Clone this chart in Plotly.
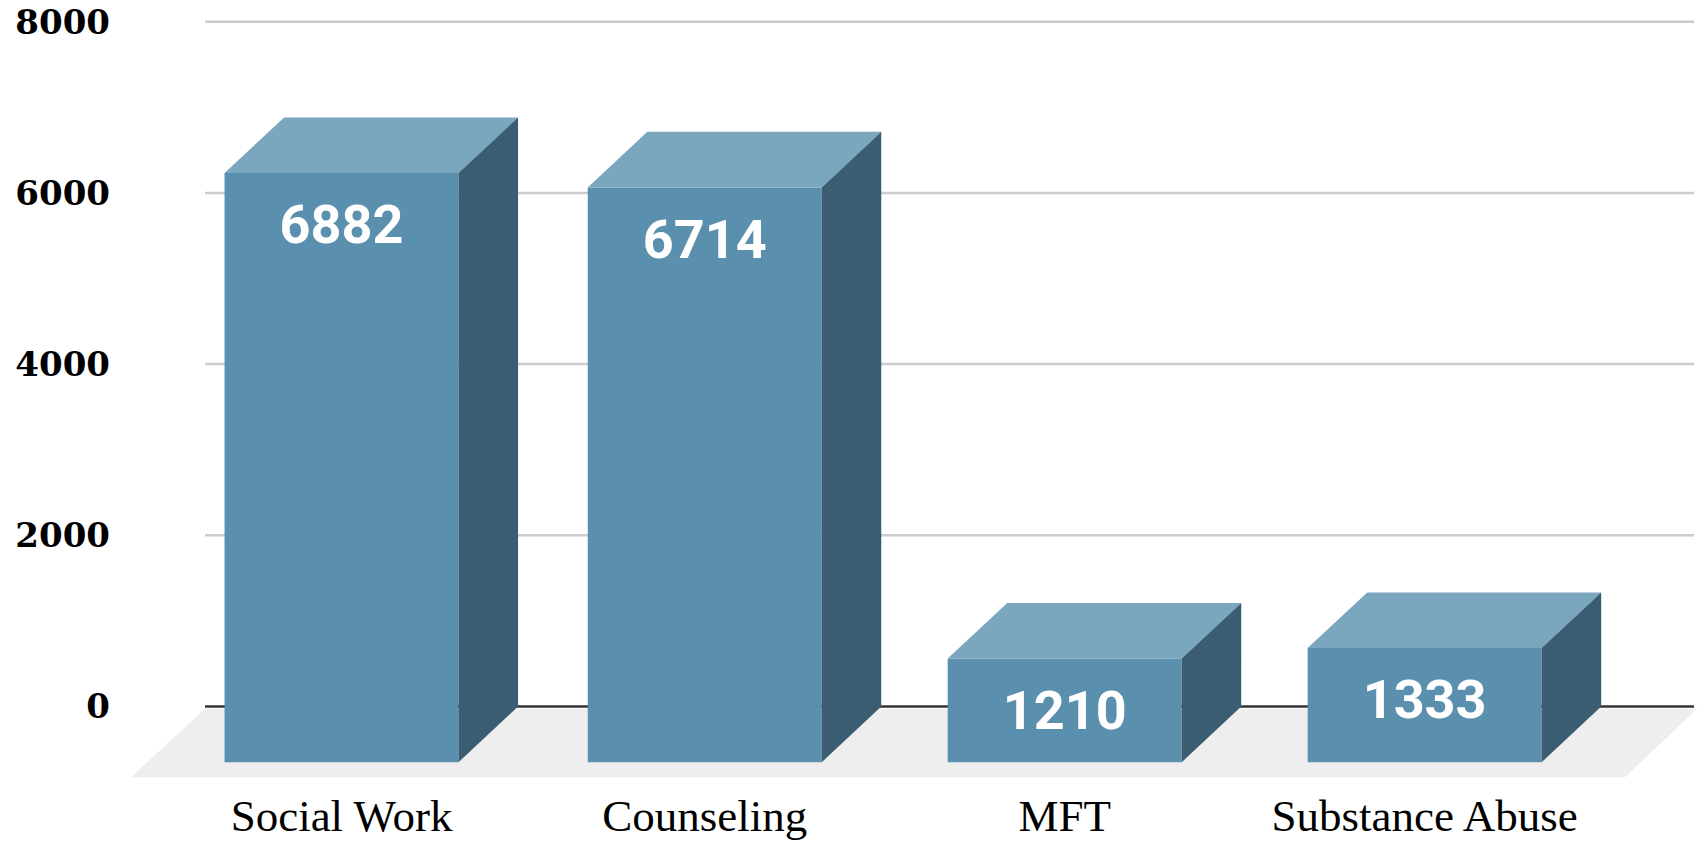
import plotly.graph_objects as go

categories = ["Social Work", "Counseling", "MFT", "Substance Abuse"]
values = [6882, 6714, 1210, 1333]
y_ticks = [0, 2000, 4000, 6000, 8000]

FRONT, TOP, SIDE = "#5a8fae", "#7aa6be", "#3a5d71"
FLOOR, GRID, ZERO = "#eeeeee", "#cccccc", "#333333"
HW = 0.324      # half bar width, in category units
DX, DY = 0.165, 650   # oblique depth, in axis units

positions = [0, 1.006, 2.003, 3.0]
fig = go.Figure()


def poly(xs, ys, color):
    fig.add_trace(go.Scatter(x=xs, y=ys, mode="lines", fill="toself", fillcolor=color,
                             line=dict(width=0, color=color), hoverinfo="skip", showlegend=False))


# floor
poly([-0.378, 3.755, 3.555, -0.583], [-25, -25, -826, -826], FLOOR)

# gridlines
for t in y_ticks:
    fig.add_trace(go.Scatter(x=[-0.378, 3.746], y=[t, t], mode="lines", hoverinfo="skip", showlegend=False,
                             line=dict(color=ZERO if t == 0 else GRID, width=2.5)))

# oblique bars
for p, v in zip(positions, values):
    l, r = p - HW, p + HW
    poly([l, r, r, l], [-DY, -DY, v - DY, v - DY], FRONT)
    poly([l, r, r + DX, l + DX], [v - DY, v - DY, v, v], TOP)
    poly([r, r + DX, r + DX, r], [v - DY, v, 0, -DY], SIDE)

# value labels
fig.add_trace(go.Scatter(x=positions, y=[v - DY - 665 for v in values], mode="text",
                         text=[str(v) for v in values], textposition="middle center",
                         textfont=dict(family="Roboto", size=54, color="white", weight="bold"),
                         hoverinfo="skip", showlegend=False))

fig.update_layout(
    width=1703, height=841, margin=dict(l=125, r=0, t=0, b=46),
    paper_bgcolor="white", plot_bgcolor="white",
    xaxis=dict(range=[-0.5997, 3.771], tickvals=positions, ticktext=categories, showgrid=False,
               zeroline=False, showline=False, ticks="", ticklabelstandoff=-10, automargin=False,
               tickfont=dict(family="Liberation Serif", size=45, color="#000000")),
    yaxis=dict(range=[-1034, 8254], tickvals=y_ticks, ticktext=[str(t) for t in y_ticks], showgrid=False,
               zeroline=False, showline=False, ticks="", ticklabelstandoff=14, automargin=False,
               tickfont=dict(family="DejaVu Serif", size=34, color="#000000", weight="bold")),
)
fig.write_html("out.html", post_script="document.body.style.margin='0';", config=dict(displayModeBar=False))
